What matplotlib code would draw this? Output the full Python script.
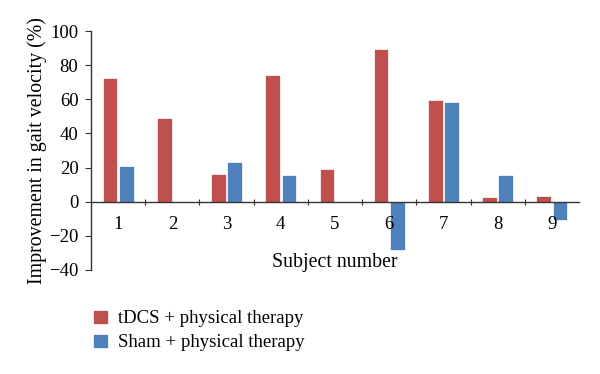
import numpy as np
import matplotlib
matplotlib.use("Agg")
import matplotlib.pyplot as plt

plt.rcParams['font.family'] = ['Liberation Serif', 'DejaVu Serif']

# data
subjects = ["1", "2", "3", "4", "5", "6", "7", "8", "9"]
tdcs = [72.3, 49.3, 16.0, 74.3, 18.9, 89.3, 59.8, 2.5, 3.1]
sham = [21.2, 0, 23.2, 15.4, 0, -28.5, 58.7, 15.4, -10.9]
series_names = ["tDCS + physical therapy", "Sham + physical therapy"]

red = "#C0504D"
blue = "#4F81BD"

fig = plt.figure(figsize=(6, 3.74), dpi=100)
ax = fig.add_axes([91 / 600, 1 - 270 / 374, (579 - 91) / 600, (270 - 31) / 374])

x = np.arange(len(subjects))
w = 0.27
b1 = ax.bar(x - 0.15, tdcs, w, color=red, edgecolor="white", linewidth=0.5,
            label=series_names[0])
b2 = ax.bar(x + 0.15, sham, w, color=blue, edgecolor="white", linewidth=0.5,
            label=series_names[1])

ax.set_xlim(-0.5, len(subjects) - 0.5)
ax.set_ylim(-40, 100)
ax.set_yticks([-40, -20, 0, 20, 40, 60, 80, 100])
ax.set_yticklabels(["\u221240", "\u221220", "0", "20", "40", "60", "80", "100"])

ax.spines['top'].set_visible(False)
ax.spines['right'].set_visible(False)
ax.spines['bottom'].set_position(('data', 0))
for s in ('left', 'bottom'):
    ax.spines[s].set_color("#333333")
    ax.spines[s].set_linewidth(1.0)

# boundary ticks on the zero line, labels at centres
ax.set_xticks(np.arange(0.5, len(subjects) - 0.5, 1.0))
ax.set_xticks(x, minor=True)
ax.set_xticklabels([])
ax.set_xticklabels(subjects, minor=True)
ax.tick_params(axis='x', which='major', direction='inout', length=5,
               color="#333333")
ax.tick_params(axis='x', which='minor', length=0, pad=10.5, labelsize=13.5)
ax.tick_params(axis='y', direction='out', length=4, color="#333333",
               labelsize=13.5, pad=5)

fig.text(335 / 600, 1 - 263 / 374, "Subject number", ha='center',
         va='center', fontsize=14.3)
fig.text(37 / 600, 1 - 151 / 374, "Improvement in gait velocity (%)",
         rotation=90, ha='center', va='center', fontsize=14.3)

fig.legend(handles=[b1, b2], loc='upper left',
           bbox_to_anchor=(85 / 600, 1 - 302 / 374), frameon=False,
           handlelength=0.8, handleheight=0.8, handletextpad=0.55,
           labelspacing=0.35, fontsize=13.5, borderaxespad=0)

fig.savefig("out.png", dpi=100)
